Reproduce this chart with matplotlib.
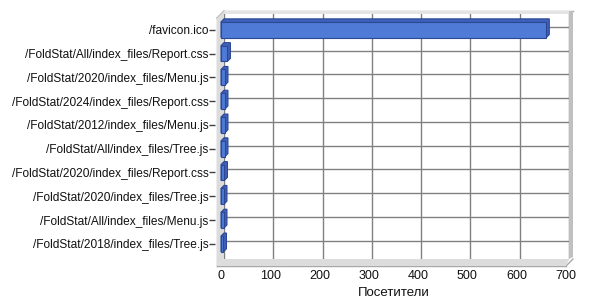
import numpy as np
import matplotlib
matplotlib.use('Agg')
import matplotlib.pyplot as plt
from matplotlib.patches import Polygon
from matplotlib.transforms import IdentityTransform

pages = ['/favicon.ico',
         '/FoldStat/All/index_files/Report.css',
         '/FoldStat/2020/index_files/Menu.js',
         '/FoldStat/2024/index_files/Report.css',
         '/FoldStat/2012/index_files/Menu.js',
         '/FoldStat/All/index_files/Tree.js',
         '/FoldStat/2020/index_files/Report.css',
         '/FoldStat/2020/index_files/Tree.js',
         '/FoldStat/All/index_files/Menu.js',
         '/FoldStat/2018/index_files/Tree.js']
visitors = [660, 13, 8, 8, 8, 8, 7, 6, 6, 5]
xticks = [0, 100, 200, 300, 400, 500, 600, 700]
xlabel = 'Посетители'

plt.rcParams['font.family'] = ['Liberation Sans', 'DejaVu Sans']

W, H = 600, 300
fig = plt.figure(figsize=(6, 3), dpi=100)


def frac(x0, y0, x1, y1):
    """pixel box (top-down y) -> figure fraction rect"""
    return [x0 / W, 1 - y1 / H, (x1 - x0) / W, (y1 - y0) / H]


def pix(pts):
    return [(x, H - y) for x, y in pts]


def wall(pts, fc, ec='none', z=1):
    p = Polygon(pix(pts), closed=True, transform=IdentityTransform(),
                facecolor=fc, edgecolor=ec, lw=1, zorder=z)
    fig.patches.append(p)


ylim = (9.845, -0.576)
n = len(pages)

# back wall with grid
ax = fig.add_axes(frac(224, 13, 569, 261), zorder=0)
ax.set_xlim(0, 700)
ax.set_ylim(*ylim)
ax.set_xticks(xticks)
ax.set_yticks(np.arange(n))
ax.tick_params(left=False, bottom=False, labelleft=False, labelbottom=False)
ax.grid(True, color='#808080', lw=1)
for s in ax.spines.values():
    s.set_visible(False)

# walls
wall([(217, 18), (224, 11), (224, 259), (217, 266)], '#dcdcdc')
wall([(217, 266), (224, 259), (569, 259), (566, 266)], '#dcdcdc')
wall([(224, 11), (573, 11), (569, 14), (224, 14)], '#e4e4e4')
wall([(569, 11), (573, 11), (573, 257), (569, 259)], '#c0c0c0')
for a, b in [((217, 18), (217, 266)), ((217, 266), (566, 266)),
             ((217, 18), (224, 11)), ((566, 266), (573, 259)),
             ((224, 11), (573, 11))]:
    fig.lines.append(plt.Line2D([a[0], b[0]], [H - a[1], H - b[1]],
                                transform=IdentityTransform(),
                                color='#a8a8a8', lw=1, zorder=1))

# front plane with bars
axf = fig.add_axes(frac(221, 16, 566, 264), zorder=2)
axf.patch.set_visible(False)
axf.set_xlim(0, 700)
axf.set_ylim(*ylim)
for s in axf.spines.values():
    s.set_visible(False)
axf.spines['left'].set_position(('outward', 4))

bh = 0.66
fig.canvas.draw()
d = 3  # bar depth in pixels
for i, v in enumerate(visitors):
    (x0, y0), (x1, y1) = axf.transData.transform([(0, i + bh / 2), (v, i - bh / 2)])
    hexa = [(x0, y0), (x0, y1), (x0 + d, y1 + d), (x1 + d, y1 + d),
            (x1 + d, y0 + d), (x1, y0)]
    axf.add_patch(Polygon(hexa, closed=True, transform=IdentityTransform(),
                          facecolor='#3d60b8', edgecolor='#2c4894', lw=0.8,
                          clip_on=False, zorder=2))
axf.barh(np.arange(n), visitors, height=bh, color='#4f7bd6',
         edgecolor='#2c4894', lw=0.8, zorder=3)

axf.set_yticks(np.arange(n), pages)
axf.set_xticks(xticks, [str(t) for t in xticks])
axf.tick_params(axis='y', length=4, width=1, color='#404040', pad=1,
                labelsize=8.6, labelcolor='#111111')
axf.tick_params(axis='x', length=0, pad=4, labelsize=9, labelcolor='#111111')
axf.set_xlabel(xlabel, fontsize=9.5, labelpad=4, color='#111111')

fig.savefig('out.png', dpi=100)
